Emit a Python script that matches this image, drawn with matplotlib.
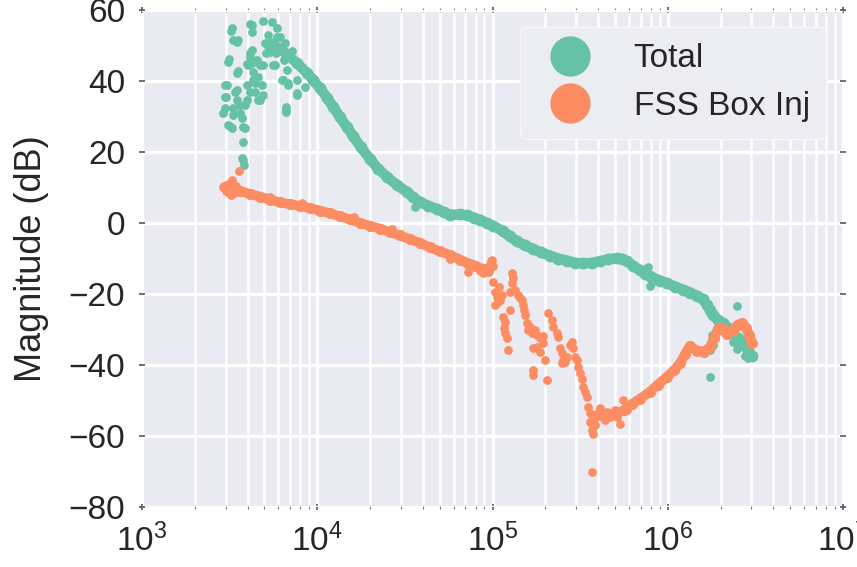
import matplotlib
matplotlib.use("Agg")
import matplotlib.pyplot as plt
from matplotlib.lines import Line2D
from matplotlib.ticker import LogLocator, LogFormatterSciNotation, NullFormatter

plt.rcParams['font.family'] = ['Liberation Sans', 'DejaVu Sans']
plt.rcParams['mathtext.fontset'] = 'custom'
plt.rcParams['mathtext.rm'] = 'Liberation Sans'
plt.rcParams['mathtext.it'] = 'Liberation Sans:italic'
plt.rcParams['mathtext.bf'] = 'Liberation Sans:bold'

# ---------------- data (frequency in Hz, magnitude in dB) ----------------
total_band_freq = [5518, 6130, 6810, 7663, 8740, 9457, 10368, 11365, 12297, 13484,
                   14785, 15996, 17770, 19999, 22220, 25003, 28520, 32524, 35183, 38580,
                   42835, 48235, 52880, 57210, 65250, 71530, 78420, 84870, 93030, 100650,
                   114800, 125900, 138000, 153300, 170200, 189100, 212900, 236500, 266100, 295600,
                   328500, 369600, 410600, 456000, 513400, 548200, 585400, 633500, 694500, 741800,
                   792100, 845700, 903200, 990100, 1100000, 1221800, 1339300, 1468700, 1588800, 1674500,
                   1742000, 1812000, 1935000, 2066400, 2206800, 2356700, 2516600, 2687600, 2870000, 3024300]
total_band_db = [50.5, 49.0, 47.3, 45.0, 42.3, 40.3, 38.0, 35.3, 32.8, 29.8,
                 27.0, 24.5, 21.3, 18.0, 15.3, 13.0, 10.7, 8.7, 7.2, 5.9,
                 4.9, 3.9, 3.0, 2.3, 2.4, 2.2, 1.5, 0.8, 0.0, -0.8,
                 -2.3, -3.8, -5.2, -6.3, -7.3, -8.3, -9.2, -10.0, -10.6, -11.2,
                 -11.4, -11.2, -10.8, -10.2, -9.9, -10.1, -10.7, -12.0, -13.3, -14.3,
                 -15.0, -15.7, -16.2, -17.0, -17.9, -18.8, -19.6, -20.5, -21.5, -23.0,
                 -24.5, -26.0, -27.2, -28.3, -29.5, -31.0, -32.5, -33.8, -35.8, -37.5]

total_pts_freq = [3220, 3262, 3306, 3484, 3530, 3095, 3136, 3484, 3530, 3055,
                  2976, 3016, 2976, 2976, 2899, 3220, 3262, 3394, 3484, 3484,
                  3306, 3306, 3625, 3625, 3871, 3721, 3770, 3871, 3770, 3721,
                  3770, 3820, 3974, 3974, 4133, 4299, 4413, 4413, 4591, 4713,
                  4838, 4902, 4243, 4133, 4133, 4026, 4243, 4299, 4531, 4591,
                  4713, 4902, 3974, 4133, 4243, 4243, 4902, 5518, 5236, 5166,
                  5236, 5033, 5099, 5375, 5591, 5591, 5740, 5893, 5893, 6130,
                  6130, 6546, 6377, 6294, 6810, 6810, 6721, 7663, 7663, 8514,
                  7663, 6633, 6633, 6633, 3095, 6991, 7177, 5816, 6461, 36130,
                  771600, 792100, 813200, 751600, 2483900, 2483900, 2759000, 2870000, 1742000, 1742000,
                  1788300, 1788300, 2356700, 2583500, 1812000]
total_pts_db = [54.1, 54.8, 51.5, 51.0, 51.5, 45.4, 46.2, 42.3, 42.8, 38.9,
                38.9, 35.5, 35.5, 32.4, 31.0, 27.0, 26.8, 37.0, 37.5, 34.6,
                30.3, 32.4, 31.0, 33.2, 33.2, 29.6, 27.0, 26.7, 22.8, 18.3,
                17.7, 16.3, 38.9, 34.6, 36.9, 40.3, 37.0, 39.4, 34.6, 34.6,
                38.9, 36.0, 48.7, 47.9, 46.8, 44.5, 45.1, 42.5, 45.9, 41.1,
                44.5, 44.5, 44.8, 56.0, 53.8, 55.8, 56.9, 56.6, 53.0, 50.1,
                50.7, 50.7, 47.9, 48.2, 49.5, 44.5, 44.5, 54.9, 52.4, 52.4,
                49.6, 50.7, 40.3, 40.3, 38.9, 39.4, 43.1, 40.3, 36.6, 38.3,
                36.0, 32.7, 31.3, 31.8, 27.6, 47.0, 48.5, 48.0, 46.0, 4.5,
                -12.3, -17.8, -16.6, -13.0, -23.4, -35.5, -37.5, -38.0, -43.4, -35.8,
                -31.5, -33.0, -33.5, -34.0, -34.5]

fss_band1_freq = [2976, 3262, 3625, 4133, 4713, 5375, 6130, 6991, 7972, 9092,
                  10368, 11822, 13484, 15381, 17538, 19999, 22813, 26017, 29666, 33820,
                  38580, 43981, 50170, 57210, 65250, 71530, 79450, 88270, 94260]
fss_band1_db = [10.2, 9.6, 9.0, 8.2, 7.4, 6.6, 5.8, 5.3, 4.8, 4.2,
                3.5, 2.7, 1.9, 1.0, 0.0, -0.8, -1.6, -2.6, -3.5, -4.6,
                -5.6, -6.9, -8.0, -9.0, -10.3, -11.2, -12.0, -13.0, -13.6]

fss_band2_freq = [384500, 421500, 468200, 513400, 562800, 625200, 694500, 792100, 879600, 990100,
                  1085400, 1175000, 1254300, 1339300, 1468700, 1609800, 1742000, 1835900, 1935000, 2039300,
                  2178000, 2356700, 2516600, 2652600, 2795400, 2907900, 3024300]
fss_band2_db = [-54.5, -54.0, -54.0, -53.5, -52.8, -51.0, -49.5, -47.5, -45.5, -43.3,
                -41.5, -39.5, -37.0, -34.6, -36.0, -36.2, -35.0, -32.5, -29.8, -29.5,
                -31.3, -30.0, -28.6, -28.3, -29.5, -31.5, -33.8]

fss_pts_freq = [3577, 3262, 3016, 3136, 3350, 3439, 2899, 3095, 3220,
                95500, 98040, 99340, 100650, 88270, 84870, 72480,
                5375, 8227, 16300, 26800, 52000, 57210,
                100650, 103350, 106100, 107500, 103350, 110350, 113300, 114800, 117800, 117800,
                121000, 122600, 125900, 108900, 116300,
                129200, 130900, 129200, 125900, 134400, 139800, 147400, 149300, 153300, 157300,
                163700, 174800, 179400, 186700, 179400, 170200, 170200, 170200, 194200, 194200,
                199400, 204700, 186700, 168000, 159400, 143500, 151300,
                207400, 218600, 221400, 233300, 236500, 242700, 249200, 252500, 266100, 276800,
                284200, 288000, 295600, 303500, 315700, 328500, 346200, 350800, 360100, 369600,
                374600, 249200, 259200, 307500, 324200, 337200,
                369600, 384500, 399900, 427100, 450200, 468200, 487000, 513400, 534000, 555400,
                585400, 369600, 360100, 410600, 438500, 500000, 384500]
fss_pts_db = [14.6, 12.1, 9.0, 8.4, 8.5, 10.5, 10.1, 11.0, 8.0,
              -12.0, -10.8, -10.4, -12.0, -14.2, -13.6, -13.8,
              7.4, 5.5, 1.8, -1.8, -8.2, -10.0,
              -16.5, -19.4, -20.8, -22.2, -23.1, -21.7, -20.3, -26.4, -27.8, -31.1,
              -32.5, -35.8, -24.5, -18.0, -29.5,
              -14.2, -15.6, -17.0, -19.4, -18.9, -20.3, -21.7, -23.1, -25.9, -28.2,
              -29.2, -30.1, -31.5, -32.5, -34.8, -35.3, -41.4, -42.8, -31.8, -33.7,
              -38.6, -44.2, -36.2, -31.1, -30.1, -21.0, -24.5,
              -25.4, -27.3, -29.2, -31.1, -32.0, -35.3, -36.7, -38.6, -37.7, -34.4,
              -33.4, -35.3, -37.7, -38.6, -42.3, -46.1, -49.0, -51.7, -53.6, -58.3,
              -59.3, -39.5, -39.1, -40.5, -44.0, -47.5,
              -55.5, -54.6, -53.6, -54.6, -53.2, -54.6, -53.6, -54.6, -56.5, -49.9,
              -52.7, -70.0, -56.0, -52.0, -55.5, -52.8, -57.0]

series_labels = ["Total", "FSS Box Inj"]
series_colors = ["#66c2a5", "#fc8d62"]
y_ticks = [-80, -60, -40, -20, 0, 20, 40, 60]

# ---------------- figure ----------------
W, H = 857, 567
fig = plt.figure(figsize=(W / 100, H / 100), dpi=100)
ax = fig.add_axes([142 / W, 60 / H, 701 / W, 497 / H])
ax.set_facecolor("#EAEAF2")
for s in ax.spines.values():
    s.set_visible(False)

ax.set_xscale("log")
ax.set_xlim(1e3, 1e7)
ax.set_ylim(-80, 60)
ax.set_yticks(y_ticks)
ax.xaxis.set_major_locator(LogLocator(base=10, numticks=10))
ax.xaxis.set_minor_locator(LogLocator(base=10, subs=range(2, 10), numticks=100))
ax.xaxis.set_major_formatter(LogFormatterSciNotation())
ax.xaxis.set_minor_formatter(NullFormatter())

ax.grid(which="major", color="white", linewidth=2.4)
ax.grid(which="minor", axis="x", color="white", linewidth=1.8)
ax.set_axisbelow(True)

ax.tick_params(which="major", direction="inout", length=4, width=1.2, color="#555555",
               labelsize=24, labelcolor="#262626", pad=10, top=True, right=True)
ax.tick_params(which="minor", direction="inout", length=2.5, width=0.8, color="#777777",
               top=True, right=True)
ax.set_ylabel("Magnitude (dB)", fontsize=26, color="#262626", labelpad=14)

g, o = series_colors
ax.plot(total_band_freq, total_band_db, color=g, lw=7.5, marker="o", ms=7.5,
        solid_capstyle="round", solid_joinstyle="round", zorder=2)
ax.plot(total_pts_freq, total_pts_db, linestyle="none", marker="o", ms=6.3,
        color=g, markeredgewidth=0, zorder=2)
ax.plot(fss_band1_freq, fss_band1_db, color=o, lw=7, marker="o", ms=7,
        solid_capstyle="round", solid_joinstyle="round", zorder=3)
ax.plot(fss_band2_freq, fss_band2_db, color=o, lw=7, marker="o", ms=7,
        solid_capstyle="round", solid_joinstyle="round", zorder=3)
ax.plot(fss_pts_freq, fss_pts_db, linestyle="none", marker="o", ms=6.3,
        color=o, markeredgewidth=0, zorder=3)

handles = [Line2D([], [], linestyle="none", marker="o", ms=29, color=c, markeredgewidth=0)
           for c in series_colors]
leg = ax.legend(handles, series_labels, loc="upper right", fontsize=24, frameon=True,
                facecolor="#ECECF3", edgecolor="#F7F7FA", framealpha=1.0,
                borderpad=0.5, handletextpad=0.9)
for t in leg.get_texts():
    t.set_color("#262626")

fig.savefig("out.png", dpi=100)
